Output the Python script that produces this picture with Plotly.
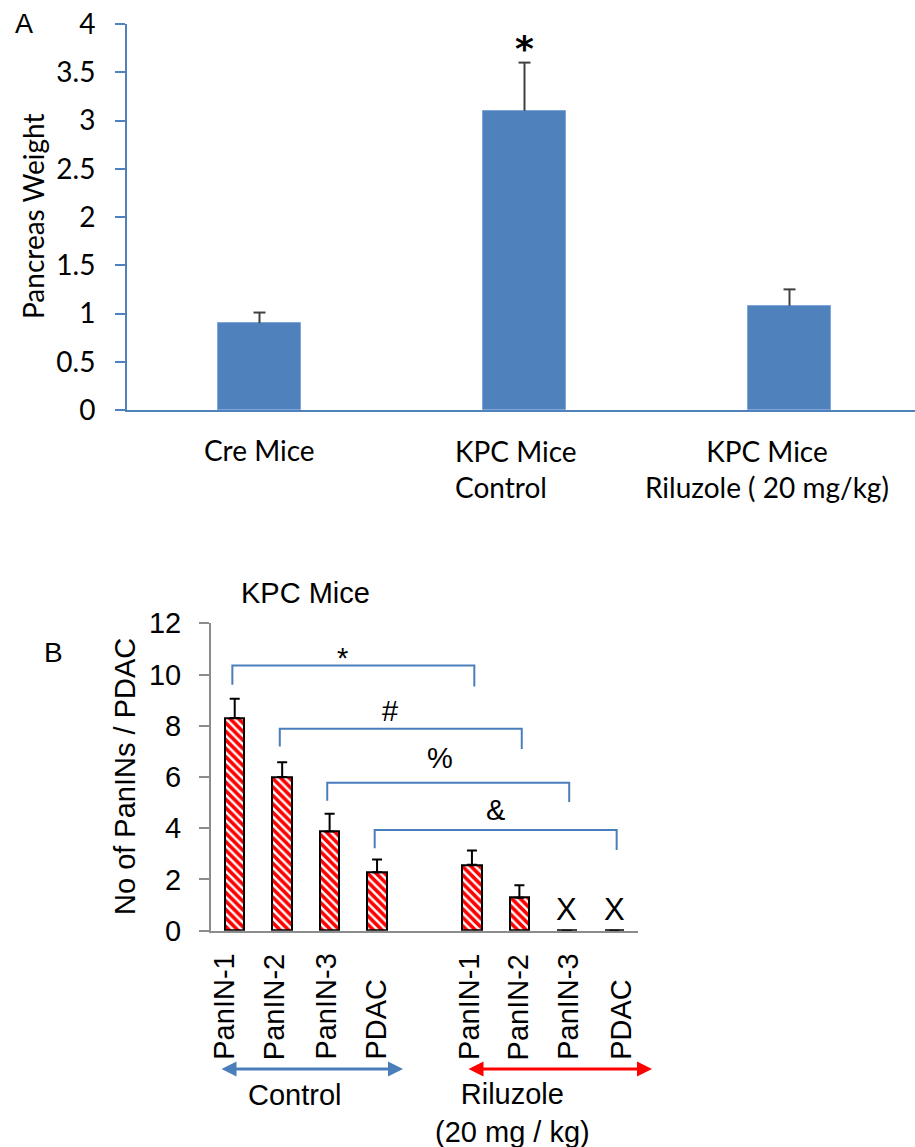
import plotly.graph_objects as go

W, H = 915, 1147


def px(x):
    return x / W


def py(y):
    return 1 - y / H


# ---------------- data: panel A ----------------
A_CATEGORIES = ["Cre Mice", "KPC Mice Control", "KPC Mice Riluzole ( 20 mg/kg)"]
A_LABELS = ["Cre Mice", "KPC Mice<br>Control", "KPC Mice<br>Riluzole ( 20 mg/kg)"]
A_WEIGHT = [0.9, 3.1, 1.08]
A_SEM = [0.11, 0.5, 0.17]
A_SIG = ["", "*", ""]
A_TICKS = [0, 0.5, 1, 1.5, 2, 2.5, 3, 3.5, 4]

# ---------------- data: panel B ----------------
B_STAGES = ["PanIN-1", "PanIN-2", "PanIN-3", "PDAC"]
B_CONTROL = [8.3, 6.0, 3.87, 2.28]
B_CONTROL_SEM = [0.75, 0.58, 0.7, 0.5]
B_RILUZOLE = [2.57, 1.29, 0.0, 0.0]
B_RILUZOLE_SEM = [0.56, 0.48, 0.0, 0.0]
B_ABSENT = [False, False, True, True]
B_TICKS = [0, 2, 4, 6, 8, 10, 12]

B_SYMBOLS = ["*", "#", "%", "&"]
B_BRACKET_TOP = [10.35, 7.88, 5.78, 3.93]
B_BRACKET_LEFT_FOOT = [9.6, 7.19, 5.07, 3.22]
B_BRACKET_RIGHT_FOOT = [9.53, 7.09, 5.02, 3.15]
B_SYMBOL_Y = [10.65, 8.58, 6.75, 4.72]
B_SYMBOL_X = [2.28, 3.28, 4.33, 5.49]

# layout helpers (not data)
GAP = 1
ctrl_pos = list(range(len(B_STAGES)))
ril_pos = [len(B_STAGES) + GAP + i for i in range(len(B_STAGES))]
LABEL_NUDGE = [-11, -8, -4, -2, -3, -1, 1, 6]
A_CAP = 0.0226  # half cap width in category units (~6 px)

BLUE = "#4f81bd"
AX_GRAY = "#8c8c8c"
FONT_A = "Lato, Open Sans, sans-serif"
FONT_B = "Arial, Liberation Sans, sans-serif"

fig = go.Figure()

# Panel A bars
a_x = list(range(len(A_CATEGORIES)))
fig.add_trace(go.Bar(
    x=a_x, y=A_WEIGHT,
    width=0.31,
    marker=dict(color=BLUE, line=dict(color="#7ea6d8", width=1)),
    xaxis="x", yaxis="y", showlegend=False, hoverinfo="skip",
))
# Panel A upper error bars (stem + cap only)
ex, ey = [], []
for xi, v, e in zip(a_x, A_WEIGHT, A_SEM):
    ex += [xi, xi, None, xi - A_CAP, xi + A_CAP, None]
    ey += [v, v + e, None, v + e, v + e, None]
fig.add_trace(go.Scatter(x=ex, y=ey, mode="lines", line=dict(color="#404040", width=2),
                         xaxis="x", yaxis="y", showlegend=False, hoverinfo="skip"))

# Panel B bars
pattern = dict(shape="\\", fgcolor="#ff0000", bgcolor="white", size=6, solidity=0.6)
fig.add_trace(go.Bar(
    x=ctrl_pos + ril_pos, y=B_CONTROL + B_RILUZOLE,
    width=0.41,
    marker=dict(color="white", pattern=pattern, line=dict(color="black", width=2)),
    error_y=dict(type="data", array=B_CONTROL_SEM + B_RILUZOLE_SEM, symmetric=False,
                 arrayminus=[0] * 8, color="black", thickness=2, width=5),
    xaxis="x2", yaxis="y2", showlegend=False, hoverinfo="skip",
))

# Significance brackets
for i, sym in enumerate(B_SYMBOLS):
    left = ctrl_pos[i] - 0.05
    right = ril_pos[i] + 0.05
    fig.add_trace(go.Scatter(
        x=[left, left, right, right],
        y=[B_BRACKET_LEFT_FOOT[i], B_BRACKET_TOP[i], B_BRACKET_TOP[i], B_BRACKET_RIGHT_FOOT[i]],
        mode="lines", line=dict(color="#4a7ebb", width=2),
        xaxis="x2", yaxis="y2", showlegend=False, hoverinfo="skip",
    ))

annotations = []

# Panel labels
annotations.append(dict(text="A", x=px(24), y=py(24), xref="paper", yref="paper",
                        showarrow=False, font=dict(family=FONT_B, size=27, color="black"),
                        xanchor="center", yanchor="middle"))
annotations.append(dict(text="B", x=px(53), y=py(652), xref="paper", yref="paper",
                        showarrow=False, font=dict(family=FONT_B, size=28, color="black"),
                        xanchor="center", yanchor="middle"))

# Panel A y title
annotations.append(dict(text="Pancreas Weight", x=px(33), y=py(217), xref="paper", yref="paper",
                        showarrow=False, textangle=-90,
                        font=dict(family=FONT_A, size=28, color="black"),
                        xanchor="center", yanchor="middle"))

# Panel A category labels
a_align = ["center", "left", "center"]
a_shift = [0, -9, -23]
for i, lab in enumerate(A_LABELS):
    nlines = lab.count("<br>") + 1
    yc = 450 if nlines == 1 else 468.5
    annotations.append(dict(text=lab, x=i, y=py(yc), xref="x", yref="paper",
                            showarrow=False, align=a_align[i], xshift=a_shift[i],
                            font=dict(family=FONT_A, size=28, color="black"),
                            xanchor="center", yanchor="middle"))

# Panel A significance
for i, s in enumerate(A_SIG):
    if s:
        annotations.append(dict(text="<b>%s</b>" % s, x=i, y=A_WEIGHT[i] + A_SEM[i],
                                xref="x", yref="y", showarrow=False,
                                font=dict(family="DejaVu Sans", size=36, color="black"),
                                xanchor="center", yanchor="bottom", yshift=-8))

# Panel B title and y title
annotations.append(dict(text="KPC Mice", x=px(305), y=py(593), xref="paper", yref="paper",
                        showarrow=False, font=dict(family=FONT_B, size=29, color="black"),
                        xanchor="center", yanchor="middle"))
annotations.append(dict(text="No of PanINs / PDAC", x=px(125), y=py(777), xref="paper",
                        yref="paper", showarrow=False, textangle=-90,
                        font=dict(family=FONT_B, size=29, color="black"),
                        xanchor="center", yanchor="middle"))

# Panel B rotated stage labels
for k, pos in enumerate(ctrl_pos + ril_pos):
    annotations.append(dict(text=(B_STAGES + B_STAGES)[k], x=pos, y=py(1062), xref="x2",
                            yref="paper", showarrow=False, textangle=-90,
                            xshift=LABEL_NUDGE[k],
                            font=dict(family=FONT_B, size=29, color="black"),
                            xanchor="center", yanchor="bottom"))

# "X" for absent lesions
for i, absent in enumerate(B_ABSENT):
    if absent:
        annotations.append(dict(text="X", x=ril_pos[i], y=0, xref="x2", yref="y2",
                                showarrow=False, yshift=2,
                                font=dict(family=FONT_B, size=31, color="black"),
                                xanchor="center", yanchor="bottom"))

# Significance symbols
for i, sym in enumerate(B_SYMBOLS):
    annotations.append(dict(text=sym, x=B_SYMBOL_X[i], y=B_SYMBOL_Y[i], xref="x2", yref="y2",
                            showarrow=False, font=dict(family=FONT_B, size=29, color="black"),
                            xanchor="center", yanchor="middle"))

# Group arrows
for (x0, x1, col) in [(220, 403, "#4a7ebb"), (467, 652, "#ff0000")]:
    annotations.append(dict(text="", x=px(x1), y=py(1069), xref="paper", yref="paper",
                            ax=-(x1 - x0), ay=0, axref="pixel", ayref="pixel",
                            showarrow=True, arrowside="end+start",
                            arrowhead=2, startarrowhead=2, arrowsize=1, startarrowsize=1,
                            arrowwidth=3, arrowcolor=col, standoff=0, startstandoff=0))

annotations.append(dict(text="Control", x=px(295), y=py(1095), xref="paper", yref="paper",
                        showarrow=False, font=dict(family=FONT_B, size=29, color="black"),
                        xanchor="center", yanchor="middle"))
annotations.append(dict(text="Riluzole<br>(20 mg / kg)", x=px(512), y=py(1112.5), xref="paper",
                        yref="paper", showarrow=False, align="center",
                        font=dict(family=FONT_B, size=29, color="black"),
                        xanchor="center", yanchor="middle"))

fig.update_layout(
    template="none",
    width=W, height=H, autosize=False,
    margin=dict(l=0, r=0, t=0, b=0, pad=0, autoexpand=False),
    paper_bgcolor="white", plot_bgcolor="white",
    bargap=0,
    annotations=annotations,
    xaxis=dict(domain=[px(127), 1.0], range=[-0.5, -0.5 + 788 / 265], automargin=False,
               showticklabels=False, ticks="", showgrid=False, zeroline=False,
               showline=True, linecolor=BLUE, linewidth=2, anchor="y"),
    yaxis=dict(domain=[py(410), py(24)], range=[0, 4], tickvals=A_TICKS, automargin=False,
               ticks="outside", ticklen=10, tickwidth=2, tickcolor=BLUE,
               showgrid=False, zeroline=False, showline=True, linecolor=BLUE, linewidth=2,
               tickfont=dict(family=FONT_A, size=28, color="black"),
               ticklabelstandoff=14, anchor="x"),
    xaxis2=dict(domain=[px(211), px(638)], range=[-0.5, 8.5], automargin=False,
                showticklabels=False, ticks="", showgrid=False, zeroline=False,
                showline=True, linecolor=AX_GRAY, linewidth=2, anchor="y2"),
    yaxis2=dict(domain=[py(930.7), py(623.3)], range=[0, 12], tickvals=B_TICKS,
                automargin=False,
                ticks="outside", ticklen=10, tickwidth=2, tickcolor=AX_GRAY,
                showgrid=False, zeroline=False, showline=True, linecolor=AX_GRAY, linewidth=2,
                tickfont=dict(family=FONT_B, size=29, color="black"),
                ticklabelstandoff=12, anchor="x2"),
)

fig.write_html("out.html")
